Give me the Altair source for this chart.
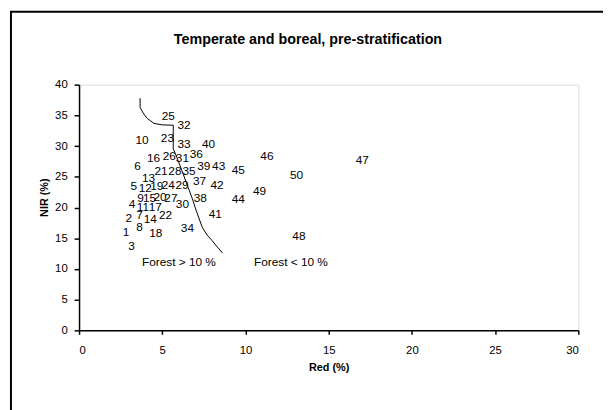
import altair as alt
import pandas as pd

ids = list(range(1, 51))
red = [2.83, 2.99, 3.15, 3.19, 3.29, 3.51, 3.63, 3.63, 3.69, 3.78,
       3.84, 3.98, 4.18, 4.28, 4.24, 4.48, 4.58, 4.61, 4.67, 4.87,
       4.93, 5.20, 5.31, 5.36, 5.36, 5.42, 5.52, 5.76, 6.19, 6.21,
       6.21, 6.31, 6.31, 6.51, 6.61, 7.04, 7.24, 7.28, 7.50, 7.78,
       8.19, 8.29, 8.39, 9.57, 9.57, 11.29, 17.02, 13.21, 10.84, 13.07]
nir = [16.0, 18.3, 13.8, 20.5, 23.5, 26.7, 18.8, 16.8, 21.6, 31.0,
       20.0, 23.1, 24.8, 18.2, 21.6, 28.0, 20.0, 15.8, 23.5, 21.7,
       25.9, 18.8, 31.3, 23.7, 34.86, 28.4, 21.5, 26.0, 23.7, 20.5,
       28.06, 33.4, 30.4, 16.7, 26.0, 28.7, 24.3, 21.6, 26.7, 30.4,
       18.9, 23.7, 26.7, 21.4, 26.1, 28.3, 27.8, 15.3, 22.7, 25.3]

curve_x = [3.67, 3.67, 3.85, 4.1, 4.5, 5.0, 5.66, 5.66, 5.93, 6.25, 6.55,
           6.8, 6.98, 7.2, 7.4, 7.7, 8.0, 8.3, 8.62]
curve_y = [37.8, 36.3, 35.4, 34.5, 33.7, 33.45, 33.4, 29.6, 27.8, 25.5, 23.3,
           21.5, 20.0, 18.3, 16.8, 15.5, 14.6, 13.6, 12.6]

ann_text = ["Forest > 10 %", "Forest < 10 %"]
ann_x = [6.0, 12.73]
ann_y = [11.05, 11.05]

x_ticks = [0, 5, 10, 15, 20, 25, 30]
y_ticks = [0, 5, 10, 15, 20, 25, 30, 35, 40]

title_text = "Temperate and boreal, pre-stratification"

pts = pd.DataFrame({"id": [str(i) for i in ids], "red": red, "nir": nir})
crv = pd.DataFrame({"x": curve_x, "y": curve_y, "order": list(range(len(curve_x)))})
ann = pd.DataFrame({"t": ann_text, "x": ann_x, "y": ann_y})

W, H = 506, 249
FONT = "Liberation Sans"

xsc = alt.Scale(domain=[0, 30], nice=False, zero=False)
ysc = alt.Scale(domain=[0, 40], nice=False, zero=False)

xaxis = alt.Axis(values=x_ticks, grid=False, title="Red (%)",
                 titleFont=FONT, titleFontSize=11, titleFontWeight="bold",
                 titleY=38, titleBaseline="middle",
                 labelFont=FONT, labelFontSize=11.5, labelColor="black",
                 labelPadding=10, tickSize=4, tickColor="black",
                 domainColor="black", domainWidth=1.5, tickWidth=1.5,
                 titleColor="black", labelOverlap=False)
yaxis = alt.Axis(values=y_ticks, grid=False,
                 title="NIR (%)", titleFont=FONT, titleFontSize=11,
                 titleFontWeight="bold", titleAngle=-90, titleX=-35, titleY=114,
                 titleAlign="center", titleBaseline="middle", titleColor="black",
                 labelFont=FONT, labelFontSize=11.5, labelColor="black",
                 labelPadding=7, tickSize=5, tickColor="black",
                 domainColor="black", domainWidth=1.5, tickWidth=1.5,
                 labelOverlap=False)

frame = alt.Chart(pd.DataFrame({"a": [0]})).mark_rect(
    fill=None, stroke="black", strokeWidth=2, clip=False
).encode(x=alt.value(-69), x2=alt.value(700), y=alt.value(-74), y2=alt.value(500))

title = alt.Chart(pd.DataFrame({"t": [title_text]})).mark_text(
    font=FONT, fontSize=14.5, fontWeight="bold", color="black",
    align="center", baseline="alphabetic"
).encode(x=alt.value(232), y=alt.value(-41.5), text="t:N")

labels = alt.Chart(pts).mark_text(
    font=FONT, fontSize=12, color="black", align="center", baseline="middle"
).encode(x=alt.X("red:Q", scale=xsc, axis=xaxis),
         y=alt.Y("nir:Q", scale=ysc, axis=yaxis),
         text="id:N")

line = alt.Chart(crv).mark_line(color="black", strokeWidth=1).encode(
    x=alt.X("x:Q", scale=xsc, axis=xaxis), y=alt.Y("y:Q", scale=ysc, axis=yaxis),
    order="order:Q")

notes = alt.Chart(ann).mark_text(
    font=FONT, fontSize=12, color="black", align="center", baseline="middle"
).encode(x=alt.X("x:Q", scale=xsc, axis=xaxis), y=alt.Y("y:Q", scale=ysc, axis=yaxis),
         text="t:N")

chart = alt.layer(line, labels, notes, frame, title).properties(
    width=W, height=H,
    autosize=alt.AutoSizeParams(type="none"),
    padding={"left": 72, "top": 75, "right": 25, "bottom": 78},
).configure_view(stroke=None).configure(background="white")

chart.save("out.html", embed_options={"renderer": "svg", "actions": False})
